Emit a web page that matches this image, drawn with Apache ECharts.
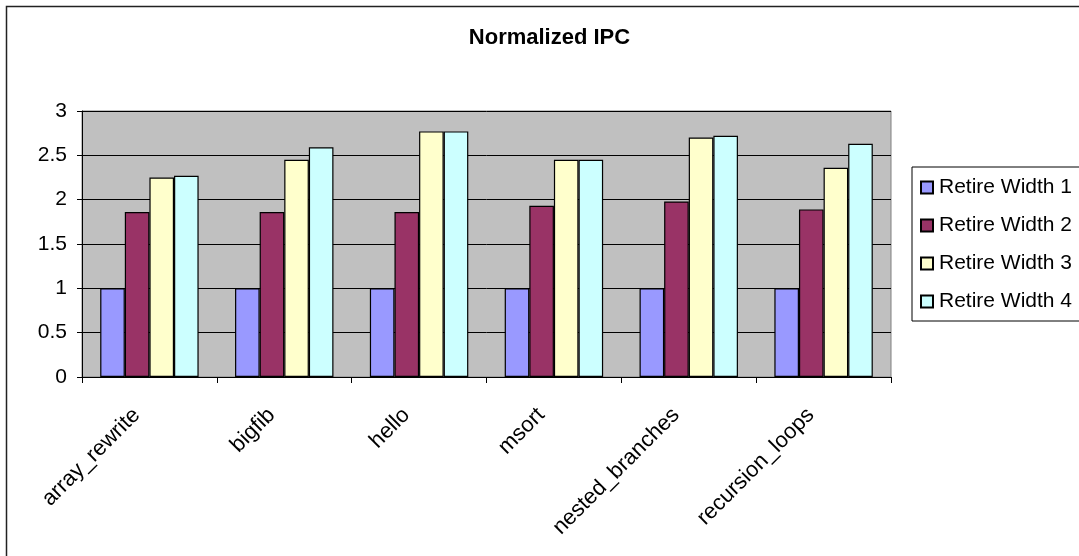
<!DOCTYPE html>
<html>
<head>
<meta charset="utf-8">
<script src="https://cdn.jsdelivr.net/npm/echarts@6/dist/echarts.min.js"></script>
<style>
html,body{margin:0;padding:0;background:#fff;}
#chart{width:1079px;height:556px;}
</style>
</head>
<body>
<div id="chart"></div>
<script>
const categories = ['array_rewrite', 'bigfib', 'hello', 'msort', 'nested_branches', 'recursion_loops'];
const seriesNames = ['Retire Width 1', 'Retire Width 2', 'Retire Width 3', 'Retire Width 4'];
const width1 = [1, 1, 1, 1, 1, 1];
const width2 = [1.86, 1.86, 1.86, 1.93, 1.98, 1.89];
const width3 = [2.25, 2.45, 2.77, 2.45, 2.70, 2.36];
const width4 = [2.27, 2.59, 2.77, 2.45, 2.72, 2.63];
const colors = ['#9999FF', '#993366', '#FFFFCC', '#CCFFFF'];
const titleText = 'Normalized IPC';

const font = 'Arial, "Liberation Sans", sans-serif';
const allData = [width1, width2, width3, width4];

const chart = echarts.init(document.getElementById('chart'));
chart.setOption({
  backgroundColor: '#fff',
  animation: false,
  graphic: [
    { type: 'rect', silent: true, z: -10,
      shape: { x: 6.5, y: 6.5, width: 1300, height: 800 },
      style: { fill: 'none', stroke: '#222', lineWidth: 1.5 } },
    { type: 'text', x: 549.5, y: 38,
      style: { text: titleText, font: 'bold 22px ' + font, fill: '#000',
               textAlign: 'center', textVerticalAlign: 'middle' } }
  ],
  grid: { left: 82, right: 188, top: 111, bottom: 179, show: true,
          backgroundColor: '#C0C0C0', borderColor: '#808080', borderWidth: 1 },
  legend: {
    orient: 'vertical', left: 912, top: 167,
    data: seriesNames,
    icon: 'rect', itemWidth: 12, itemHeight: 12, itemGap: 17,
    padding: [10, 60, 9, 8],
    backgroundColor: '#fff', borderColor: '#000', borderWidth: 1,
    textStyle: { fontFamily: font, fontSize: 21, color: '#000', padding: [0, 0, 0, 1] }
  },
  xAxis: {
    type: 'category', data: categories, boundaryGap: true,
    axisLine: { lineStyle: { color: '#000', width: 1 } },
    axisTick: { show: true, alignWithLabel: false, length: 6, inside: false, lineStyle: { color: '#000' } },
    axisLabel: { rotate: 45, interval: 0, margin: 22, padding: [0, 18, 0, 0],
                 fontFamily: font, fontSize: 22, color: '#000' },
    splitLine: { show: false }
  },
  yAxis: {
    type: 'value', min: 0, max: 3, interval: 0.5,
    axisLine: { show: true, lineStyle: { color: '#000', width: 1 } },
    axisTick: { show: true, length: 5, lineStyle: { color: '#000' } },
    axisLabel: { margin: 15, fontFamily: font, fontSize: 21, color: '#000' },
    splitLine: { show: true, lineStyle: { color: '#000', width: 1 } }
  },
  series: seriesNames.map((name, i) => ({
    name: name, type: 'bar', data: allData[i],
    barGap: '0%', barCategoryGap: '27%',
    itemStyle: { color: colors[i], borderColor: '#000', borderWidth: 1.2 }
  }))
});
</script>
</body>
</html>
